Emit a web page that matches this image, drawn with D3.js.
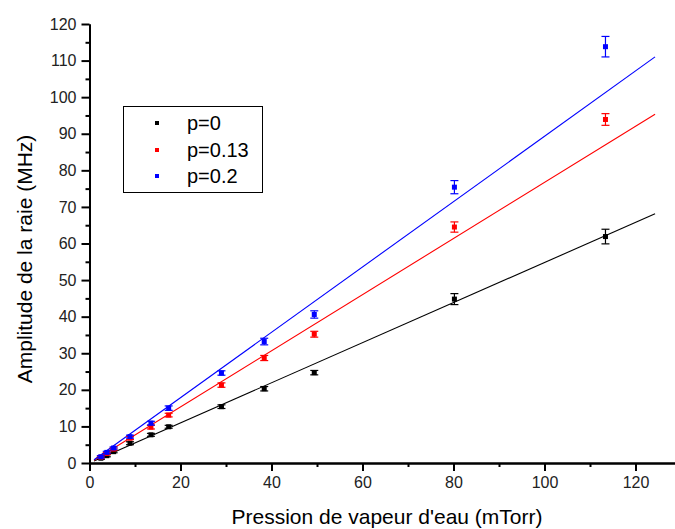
<!DOCTYPE html>
<html>
<head>
<meta charset="utf-8">
<script src="https://cdn.jsdelivr.net/npm/d3@7"></script>
<style>
  html, body { margin: 0; padding: 0; background: #fff; }
  svg { display: block; font-family: Arial, "Liberation Sans", sans-serif; }
</style>
</head>
<body>
<svg id="chart" width="675" height="529"></svg>
<script>
// ---- data ----
const pressure = [2.5, 3.8, 5.3, 8.9, 13.5, 17.4, 29.0, 38.4, 49.4, 80.2, 113.4];
const seriesNames = ["p=0", "p=0.13", "p=0.2"];
const seriesColors = ["#000000", "#ff0000", "#0000ff"];
const ampP0   = [1.3, 2.0, 3.1, 5.4, 7.7, 9.9, 15.4, 20.3, 24.7, 44.8, 61.9];
const ampP013 = [1.6, 2.6, 3.8, 6.8, 9.8, 13.1, 21.3, 28.7, 35.2, 64.5, 93.9];
const ampP02  = [1.7, 2.9, 4.1, 7.2, 10.9, 15.0, 24.6, 33.2, 40.6, 75.4, 113.8];
const errP0   = [0.3, 0.3, 0.3, 0.4, 0.4, 0.4, 0.5, 0.6, 0.6, 1.5, 2.0];
const errP013 = [0.3, 0.3, 0.3, 0.4, 0.5, 0.5, 0.6, 0.7, 0.8, 1.4, 1.6];
const errP02  = [0.3, 0.3, 0.3, 0.4, 0.5, 0.6, 0.6, 0.9, 1.0, 1.8, 2.8];
const fitSlopes = [0.548, 0.767, 0.893];
const fitIntercepts = [0, 0, 0];
const fitRange = [1.0, 124.3];
const xMajorTicks = [0, 20, 40, 60, 80, 100, 120];
const xMinorTicks = [10, 30, 50, 70, 90, 110];
const yMajorTicks = [0, 10, 20, 30, 40, 50, 60, 70, 80, 90, 100, 110, 120];
const yMinorTicks = [5, 15, 25, 35, 45, 55, 65, 75, 85, 95, 105, 115];
const xTitle = "Pression de vapeur d'eau (mTorr)";
const yTitle = "Amplitude de la raie (MHz)";

const seriesY = [ampP0, ampP013, ampP02];
const seriesErr = [errP0, errP013, errP02];

// ---- layout ----
const svg = d3.select("#chart");
const x0 = 89.5, xRight = 675, yBottom = 463, yTop = 24;
const x = d3.scaleLinear().domain([0, (xRight - x0) / 4.55]).range([x0, xRight]);
const y = d3.scaleLinear().domain([0, 120]).range([yBottom, yTop]);

svg.append("defs").append("clipPath").attr("id", "plotclip")
  .append("rect").attr("x", x0).attr("y", 0).attr("width", xRight - x0).attr("height", yBottom);

// fit lines
const plot = svg.append("g").attr("clip-path", "url(#plotclip)");
fitSlopes.forEach((m, i) => {
  const b = fitIntercepts[i];
  plot.append("line")
    .attr("x1", x(fitRange[0])).attr("y1", y(m * fitRange[0] + b))
    .attr("x2", x(fitRange[1])).attr("y2", y(m * fitRange[1] + b))
    .attr("stroke", seriesColors[i]).attr("stroke-width", 1.1);
});

// error bars + markers
seriesY.forEach((vals, i) => {
  const g = svg.append("g");
  const col = seriesColors[i];
  const errs = seriesErr[i];
  const cap = 4;
  vals.forEach((v, j) => {
    const cx = x(pressure[j]);
    const yl = y(v - errs[j]), yh = y(v + errs[j]);
    g.append("line").attr("x1", cx).attr("x2", cx).attr("y1", yl).attr("y2", yh)
      .attr("stroke", col).attr("stroke-width", 1.2);
    g.append("line").attr("x1", cx - cap).attr("x2", cx + cap).attr("y1", yl).attr("y2", yl)
      .attr("stroke", col).attr("stroke-width", 1.2);
    g.append("line").attr("x1", cx - cap).attr("x2", cx + cap).attr("y1", yh).attr("y2", yh)
      .attr("stroke", col).attr("stroke-width", 1.2);
  });
  g.selectAll("rect").data(vals).join("rect")
    .attr("x", (d, j) => x(pressure[j]) - 2.5)
    .attr("y", d => y(d) - 2.5)
    .attr("width", 5).attr("height", 5)
    .attr("fill", col);
});

// axes
const fs = 16;
const xAxisMajor = d3.axisBottom(x).tickValues(xMajorTicks).tickSize(8).tickSizeOuter(0).tickPadding(6);
const xAxisMinor = d3.axisBottom(x).tickValues(xMinorTicks).tickSize(4).tickSizeOuter(0).tickFormat("");
const yAxisMajor = d3.axisLeft(y).tickValues(yMajorTicks).tickSize(8).tickSizeOuter(0).tickPadding(5);
const yAxisMinor = d3.axisLeft(y).tickValues(yMinorTicks).tickSize(4).tickSizeOuter(0).tickFormat("");

function styleAxis(g) {
  g.selectAll("path.domain").attr("stroke", "#000").attr("stroke-width", 2);
  g.selectAll(".tick line").attr("stroke", "#000").attr("stroke-width", 2);
  g.selectAll(".tick text").attr("fill", "#222").attr("font-size", fs)
    .attr("font-family", "Arial, 'Liberation Sans', sans-serif");
}
svg.append("g").attr("transform", `translate(0,${yBottom})`).call(xAxisMinor).call(styleAxis);
svg.append("g").attr("transform", `translate(0,${yBottom})`).call(xAxisMajor).call(styleAxis);
svg.append("g").attr("transform", `translate(${x0},0)`).call(yAxisMinor).call(styleAxis);
svg.append("g").attr("transform", `translate(${x0},0)`).call(yAxisMajor).call(styleAxis);

// titles
svg.append("text").attr("x", 387).attr("y", 524).attr("text-anchor", "middle")
  .attr("font-size", 21).attr("fill", "#000").text(xTitle);
svg.append("text").attr("transform", "translate(32,259) rotate(-90)").attr("text-anchor", "middle")
  .attr("font-size", 21).attr("fill", "#000").text(yTitle);

// legend
const lg = svg.append("g");
lg.append("rect").attr("x", 123.5).attr("y", 106.5).attr("width", 139).attr("height", 86)
  .attr("fill", "#fff").attr("stroke", "#000").attr("stroke-width", 1);
const rowY = [123, 150, 176];
seriesNames.forEach((nm, i) => {
  lg.append("rect").attr("x", 155).attr("y", rowY[i] - 2).attr("width", 4).attr("height", 4)
    .attr("fill", seriesColors[i]);
  lg.append("text").attr("x", 187).attr("y", rowY[i]).attr("dy", "0.36em")
    .attr("font-size", 20).attr("fill", "#000").text(nm);
});
</script>
</body>
</html>
